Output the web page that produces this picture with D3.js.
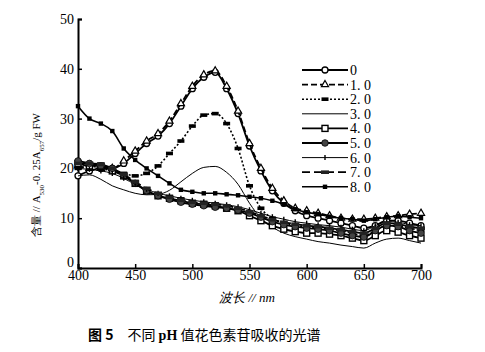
<!DOCTYPE html>
<html>
<head>
<meta charset="utf-8">
<script src="https://cdn.jsdelivr.net/npm/d3@7/dist/d3.min.js"></script>
<style>
  body { margin: 0; background: #fff; }
  svg { display: block; }
</style>
</head>
<body>
<div id="chart"></div>
<script>
// wavelength grid (nm)
const wavelengths = d3.range(400, 701, 10);
const seriesNames = ["0", "1. 0", "2. 0", "3. 0", "4. 0", "5. 0", "6. 0", "7. 0", "8. 0"];

// values
const ph0 = [18.5, 19.5, 20, 20, 21, 23, 25, 26.5, 29, 32.5, 36, 38.3, 39.3, 36, 31, 24.5, 19.5, 15.5, 13, 11.5, 10.5, 10, 9.5, 9, 8.5, 8, 8.5, 9.5, 9.5, 9, 8.5];
const ph1 = [20.5, 20, 20, 20, 21.5, 23.5, 25.5, 27, 29.5, 33, 36.5, 38.8, 39.6, 36.5, 31.5, 25, 20, 16, 13.5, 12, 11.5, 11, 10.5, 10, 9.8, 9.8, 10, 10.3, 10.5, 10.8, 11];
const ph2 = [20, 20.5, 20, 19.5, 19, 18.5, 19, 20.5, 23, 25.5, 28.5, 30.7, 31, 29, 24, 16.5, 12, 10, 9, 8.5, 8.3, 8, 7.8, 7.5, 7, 6.5, 7.5, 8.5, 8.5, 8, 7.5];
const ph3 = [18.5, 18.7, 17.8, 16.5, 15.7, 15, 14.7, 14.8, 15.6, 17.3, 19, 20.2, 20.4, 19.2, 16.8, 13, 10, 8.2, 7, 6.3, 5.8, 5.3, 5, 4.6, 4.3, 4, 5, 5.8, 6, 5.5, 5];
const ph4 = [21, 20.5, 20.5, 19.5, 18.5, 17, 15.5, 14.5, 14, 13.5, 13, 12.8, 12.5, 12, 11.5, 10.5, 9.5, 8.5, 7.8, 7.3, 7, 7, 6.8, 6.5, 6, 5.5, 6.5, 7.5, 7.2, 6.5, 6];
const ph5 = [21.5, 21, 20.5, 20, 18.5, 17, 15.5, 14.5, 13.8, 13.2, 12.8, 12.5, 12.2, 12, 11.6, 11, 10.2, 9.3, 8.7, 8.3, 8, 7.8, 7.5, 7, 6.5, 6.2, 7.5, 8.5, 8.3, 7.5, 7];
const ph6 = [20, 19.8, 19.5, 19, 18, 16.8, 15.8, 15, 14.5, 14, 13.6, 13.3, 13, 12.7, 12.3, 11.7, 11, 10.3, 9.8, 9.3, 9, 8.7, 8.5, 8.2, 7.8, 7.5, 8.5, 9.3, 9.2, 8.7, 8.5];
const ph7 = [21, 21, 20.8, 20, 18.8, 17.3, 16, 15, 14.2, 13.6, 13.2, 13, 12.8, 12.5, 12, 11.3, 10.5, 9.7, 9.2, 8.8, 8.5, 8.3, 8, 7.7, 7.3, 7, 8, 9, 8.8, 8.3, 8];
const ph8 = [32.5, 30, 29, 27.5, 24, 21.7, 20, 18.5, 17, 15.7, 15.3, 15, 15, 14.8, 14.6, 14.3, 14, 13.5, 12.8, 11.8, 11.2, 10.8, 10.3, 10, 9.8, 9.5, 9.8, 10.2, 10.4, 10.2, 10];

const xTicks = [400, 450, 500, 550, 600, 650, 700];
const yTicks = [0, 10, 20, 30, 40, 50];

const allValues = [ph0, ph1, ph2, ph3, ph4, ph5, ph6, ph7, ph8];

// style per series: dash, width, marker
const styles = [
  { dash: null, w: 1.8, m: "circleOpen" },
  { dash: "6,3", w: 1.8, m: "triangle" },
  { dash: "2,2", w: 1.6, m: "bar" },
  { dash: null, w: 1, m: "none" },
  { dash: null, w: 1.8, m: "squareOpen" },
  { dash: null, w: 1.8, m: "circleGray" },
  { dash: null, w: 1, m: "tick" },
  { dash: "8,4", w: 1.8, m: "barGray" },
  { dash: null, w: 1.6, m: "squareSmall" }
];

const width = 485, height = 352;
const margin = { left: 78, right: 64, top: 19, bottom: 84 };

const svg = d3.select("#chart").append("svg")
  .attr("width", width)
  .attr("height", height)
  .style("font-family", "'Liberation Serif', serif");

const x = d3.scaleLinear().domain([400, 700]).range([margin.left, width - margin.right]);
const y = d3.scaleLinear().domain([0, 50]).range([height - margin.bottom, margin.top]);

function drawMarker(g, type, cx, cy) {
  if (type === "circleOpen") {
    g.append("circle").attr("cx", cx).attr("cy", cy).attr("r", 3)
      .attr("fill", "#fff").attr("stroke", "#000").attr("stroke-width", 1.3);
  } else if (type === "triangle") {
    g.append("path").attr("d", d3.symbol(d3.symbolTriangle, 22)())
      .attr("transform", `translate(${cx},${cy})`)
      .attr("fill", "#fff").attr("stroke", "#000").attr("stroke-width", 1.2);
  } else if (type === "bar") {
    g.append("rect").attr("x", cx - 3.5).attr("y", cy - 1.8).attr("width", 7).attr("height", 3.6).attr("fill", "#000");
  } else if (type === "squareOpen") {
    g.append("rect").attr("x", cx - 3).attr("y", cy - 3).attr("width", 6).attr("height", 6)
      .attr("fill", "#fff").attr("stroke", "#000").attr("stroke-width", 1.4);
  } else if (type === "circleGray") {
    g.append("circle").attr("cx", cx).attr("cy", cy).attr("r", 3.3)
      .attr("fill", "#444").attr("stroke", "#000").attr("stroke-width", 0.8);
  } else if (type === "tick") {
    g.append("line").attr("x1", cx).attr("x2", cx).attr("y1", cy - 2.5).attr("y2", cy + 2.5)
      .attr("stroke", "#000").attr("stroke-width", 1.4);
  } else if (type === "barGray") {
    g.append("rect").attr("x", cx - 4).attr("y", cy - 1.8).attr("width", 8).attr("height", 3.6).attr("fill", "#222");
  } else if (type === "squareSmall") {
    g.append("rect").attr("x", cx - 2.2).attr("y", cy - 2.2).attr("width", 4.4).attr("height", 4.4).attr("fill", "#000");
  }
}

// axes with inward ticks
const xAxis = svg.append("g")
  .attr("transform", `translate(0,${y(0)})`)
  .call(d3.axisBottom(x).tickValues(xTicks).tickSize(-4).tickPadding(4).tickFormat(d3.format("d")));
const yAxis = svg.append("g")
  .attr("transform", `translate(${x(400)},0)`)
  .call(d3.axisLeft(y).tickValues(yTicks).tickSize(-4).tickPadding(4).tickFormat(d3.format("d")));

[xAxis, yAxis].forEach(a => {
  a.select(".domain").attr("stroke", "#000").attr("stroke-width", 2);
  a.selectAll(".tick line").attr("stroke", "#000").attr("stroke-width", 1.5);
  a.selectAll(".tick text").attr("fill", "#000").style("font-size", "14px")
    .style("font-family", "'Liberation Serif', serif");
});
yAxis.selectAll(".tick text").filter(d => d === 0).attr("dy", "-0.1em");
xAxis.selectAll(".tick text").attr("dy", "0.6em");

// lines
const line = d3.line()
  .x((d, i) => x(wavelengths[i]))
  .y(d => y(d))
  .curve(d3.curveMonotoneX);

const plot = svg.append("g");
allValues.forEach((vals, k) => {
  const s = styles[k];
  plot.append("path")
    .datum(vals)
    .attr("d", line)
    .attr("fill", "none")
    .attr("stroke", "#000")
    .attr("stroke-width", s.w)
    .attr("stroke-dasharray", s.dash);
  const mg = plot.append("g");
  vals.forEach((v, i) => drawMarker(mg, s.m, x(wavelengths[i]), y(v)));
});

// legend
const legend = svg.append("g");
seriesNames.forEach((name, k) => {
  const s = styles[k];
  const ly = 70 + k * 14.6;
  legend.append("line")
    .attr("x1", 302).attr("x2", 348).attr("y1", ly).attr("y2", ly)
    .attr("stroke", "#000").attr("stroke-width", s.w)
    .attr("stroke-dasharray", s.dash);
  drawMarker(legend, s.m === "none" ? "none" : s.m, 325, ly);
  legend.append("text")
    .attr("x", 350).attr("y", ly + 5)
    .style("font-size", "14px")
    .text(name);
});

// axis titles
svg.append("text")
  .attr("x", 247).attr("y", 302)
  .attr("text-anchor", "middle")
  .style("font-size", "13px")
  .style("font-style", "italic")
  .html("波长 // nm");

const yl = svg.append("text")
  .attr("transform", "translate(40,175) rotate(-90)")
  .attr("text-anchor", "middle")
  .style("font-size", "11px");
yl.append("tspan").text("含量 // A");
yl.append("tspan").attr("baseline-shift", "sub").style("font-size", "7px").text("530");
yl.append("tspan").text("-0. 25A");
yl.append("tspan").attr("baseline-shift", "sub").style("font-size", "7px").text("657");
yl.append("tspan").text("/g FW");

// caption
const cap = svg.append("text")
  .attr("x", 88).attr("y", 340)
  .style("font-size", "14px")
  .style("font-family", "'Noto Sans CJK SC', 'Liberation Serif', serif");
cap.append("tspan").style("font-weight", "bold").text("图 5");
cap.append("tspan").attr("dx", 14).text("不同 ");
cap.append("tspan").style("font-weight", "bold").style("font-family", "'Liberation Serif', serif").text("pH");
cap.append("tspan").text(" 值花色素苷吸收的光谱");
</script>
</body>
</html>
